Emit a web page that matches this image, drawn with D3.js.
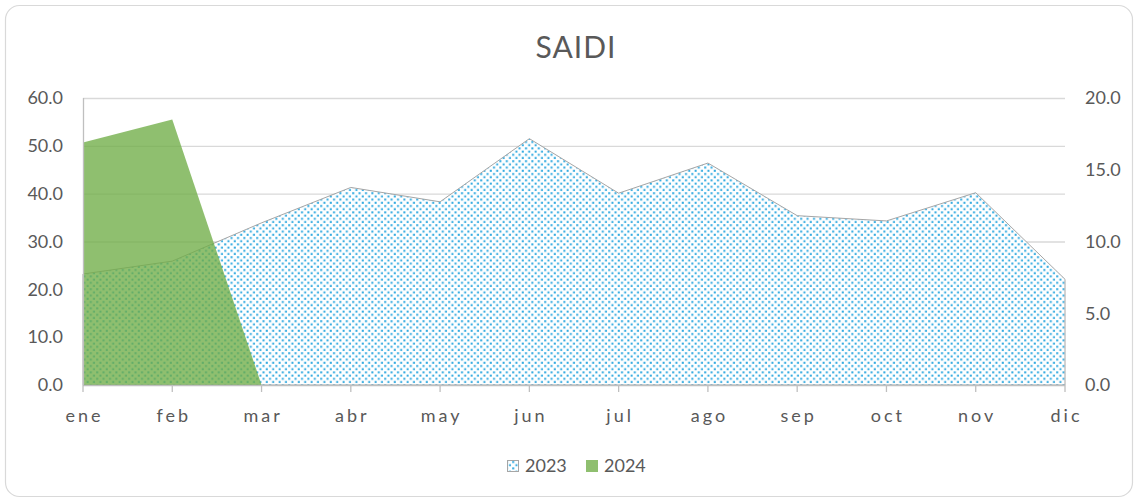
<!DOCTYPE html>
<html><head><meta charset="utf-8">
<script src="https://cdn.jsdelivr.net/npm/d3@7"></script>
<style>html,body{margin:0;padding:0;background:#fff;}svg{display:block;}</style>
</head><body>
<svg id="chart" width="1139" height="502"></svg>
<script>
const months = ["ene","feb","mar","abr","may","jun","jul","ago","sep","oct","nov","dic"];
const values2023 = [23.2, 25.9, 33.9, 41.3, 38.3, 51.5, 40.1, 46.4, 35.4, 34.3, 40.2, 22.1];
const values2024 = [16.9, 18.5, 0];
const leftTicks = [0, 10, 20, 30, 40, 50, 60];
const rightTicks = [0, 5, 10, 15, 20];
const seriesNames = ["2023", "2024"];

const svg = d3.select("#chart");
const font = "Lato, 'Liberation Sans', sans-serif";
const textColor = "#595959";

// frame
svg.append("rect").attr("x", 5.5).attr("y", 5.5).attr("width", 1127).attr("height", 491)
  .attr("rx", 14).attr("fill", "#fff").attr("stroke", "#d9d9d9").attr("stroke-width", 1.2);

const x = d3.scalePoint().domain(months).range([83, 1065]);
const yL = d3.scaleLinear().domain([0, 60]).range([385, 98]);
const yR = d3.scaleLinear().domain([0, 20]).range([385, 98]);

// pattern
const defs = svg.append("defs");
const pat = defs.append("pattern").attr("id", "dots").attr("patternUnits", "userSpaceOnUse")
  .attr("width", 6.4).attr("height", 6.4);
pat.append("rect").attr("width", 6.4).attr("height", 6.4).attr("fill", "#fff");
pat.append("rect").attr("x", 0.2).attr("y", 0.2).attr("width", 2).attr("height", 2).attr("fill", "#2fa9e0");
pat.append("rect").attr("x", 3.4).attr("y", 3.4).attr("width", 2).attr("height", 2).attr("fill", "#2fa9e0");

// gridlines
svg.append("g").selectAll("line").data(leftTicks.filter(d => d > 0)).join("line")
  .attr("x1", 83).attr("x2", 1065).attr("y1", d => yL(d) + 0.5).attr("y2", d => yL(d) + 0.5)
  .attr("stroke", "#d9d9d9").attr("stroke-width", 1.3);

// 2023 area (left axis)
const area2023 = d3.area().x((d, i) => x(months[i])).y0(yL(0)).y1(d => yL(d));
svg.append("path").datum(values2023).attr("d", area2023)
  .attr("fill", "url(#dots)").attr("stroke", "#a6a6a6").attr("stroke-width", 1);

// 2024 area (right axis)
const area2024 = d3.area().x((d, i) => x(months[i])).y0(yR(0)).y1(d => yR(d));
svg.append("path").datum(values2024).attr("d", area2024)
  .attr("fill", "#70ad47").attr("fill-opacity", 0.78);

// axes lines
svg.append("line").attr("x1", 83.5).attr("x2", 83.5).attr("y1", 98).attr("y2", 385)
  .attr("stroke", "#bfbfbf").attr("stroke-width", 1.3);
svg.append("line").attr("x1", 83).attr("x2", 1065).attr("y1", 385.5).attr("y2", 385.5)
  .attr("stroke", "#bfbfbf").attr("stroke-width", 1.3);
svg.append("g").selectAll("line").data(months).join("line")
  .attr("x1", d => x(d)).attr("x2", d => x(d)).attr("y1", 385).attr("y2", 392)
  .attr("stroke", "#bfbfbf").attr("stroke-width", 1.3);

// left tick labels
svg.append("g").selectAll("text").data(leftTicks).join("text")
  .attr("x", 63).attr("y", d => yL(d)).attr("dy", "0.35em").attr("text-anchor", "end")
  .attr("font-family", font).attr("font-size", 18).attr("fill", textColor)
  .text(d => d3.format(".1f")(d));
// right tick labels
svg.append("g").selectAll("text").data(rightTicks).join("text")
  .attr("x", 1085).attr("y", d => yR(d)).attr("dy", "0.35em").attr("text-anchor", "start")
  .attr("font-family", font).attr("font-size", 18).attr("fill", textColor)
  .text(d => d3.format(".1f")(d));
// x labels
svg.append("g").selectAll("text").data(months).join("text")
  .attr("x", d => x(d) + 1.5).attr("y", 422).attr("text-anchor", "middle")
  .attr("font-family", font).attr("font-size", 18).attr("letter-spacing", 3).attr("fill", textColor)
  .text(d => d);

// title
svg.append("text").attr("x", 576).attr("y", 58).attr("text-anchor", "middle")
  .attr("font-family", font).attr("font-size", 30).attr("letter-spacing", 1).attr("fill", textColor).text("SAIDI");

// legend
const lg = svg.append("g");
lg.append("rect").attr("x", 507.5).attr("y", 460.5).attr("width", 11).attr("height", 11)
  .attr("fill", "url(#dots)").attr("stroke", "#a6a6a6").attr("stroke-width", 1);
lg.append("text").attr("x", 525).attr("y", 466).attr("dy", "0.35em").attr("font-family", font)
  .attr("font-size", 18).attr("fill", textColor).text(seriesNames[0]);
lg.append("rect").attr("x", 586).attr("y", 460).attr("width", 12).attr("height", 12)
  .attr("fill", "#70ad47").attr("fill-opacity", 0.78);
lg.append("text").attr("x", 604).attr("y", 466).attr("dy", "0.35em").attr("font-family", font)
  .attr("font-size", 18).attr("fill", textColor).text(seriesNames[1]);
</script>
</body></html>
